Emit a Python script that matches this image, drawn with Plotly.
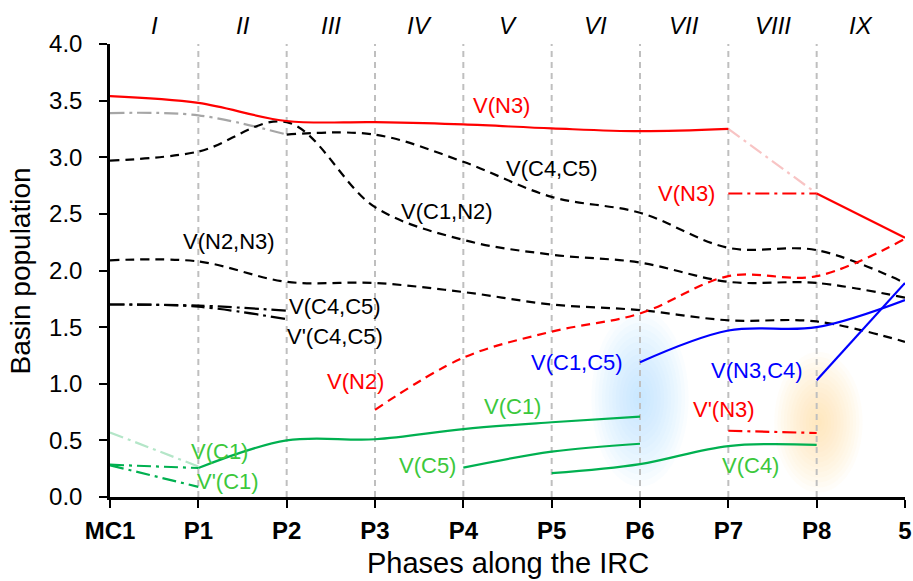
import plotly.graph_objects as go

# ---------------- data ----------------
categories = ["MC1", "P1", "P2", "P3", "P4", "P5", "P6", "P7", "P8", "5"]
phases = ["I", "II", "III", "IV", "V", "VI", "VII", "VIII", "IX"]

N = None
vN3_main   = [3.54, 3.48, 3.32, 3.31, 3.29, 3.255, 3.23, 3.25, N, N]
vN3_fade   = [N, N, N, N, N, N, N, 3.25, 2.68, N]
vN3_tail   = [N, N, N, N, N, N, N, N, 2.68, 2.29]
vN3_split  = [N, N, N, N, N, N, N, 2.68, 2.68, N]
vpN3       = [N, N, N, N, N, N, N, 0.585, 0.565, N]
grey_dd    = [3.39, 3.37, 3.20, N, N, N, N, N, N, N]
dash_a     = [2.97, 3.05, 3.31, 2.56, 2.27, 2.14, 2.07, 1.90, 1.89, 1.76]
dash_b     = [N, N, 3.20, 3.20, 2.96, 2.65, 2.51, 2.20, 2.18, 1.89]
vN2N3      = [2.09, 2.08, 1.90, 1.89, 1.81, 1.70, 1.65, 1.56, 1.55, 1.37]
vC4C5_dd   = [1.70, 1.69, 1.645, N, N, N, N, N, N, N]
vpC4C5_dd  = [1.70, 1.68, 1.57, N, N, N, N, N, N, N]
vN2        = [N, N, N, 0.77, 1.23, 1.46, 1.62, 1.95, 1.95, 2.28]
vC1C5      = [N, N, N, N, N, N, 1.19, 1.47, 1.50, 1.74]
vN3C4      = [N, N, N, N, N, N, N, N, 1.03, 1.89]
vC1        = [N, 0.256, 0.50, 0.51, 0.60, 0.66, 0.71, N, N, N]
vC5        = [N, N, N, N, 0.26, 0.40, 0.47, N, N, N]
vC4        = [N, N, N, N, N, 0.21, 0.29, 0.45, 0.46, N]
vC1_dd     = [0.285, 0.256, N, N, N, N, N, N, N, N]
vpC1_dd    = [0.28, 0.09, N, N, N, N, N, N, N, N]
pale_dd    = [0.57, 0.27, N, N, N, N, N, N, N, N]

# ---------------- styles ----------------
RED, BLACK, BLUE, GREEN = "#FF0000", "#000000", "#0000FF", "#00B050"
GREEN_TXT = "#3CC83C"
FONT = "Liberation Sans, Arial, sans-serif"
DASH = "9px,6px"
DASHDOT = "14px,5px,3px,5px"

fig = go.Figure()

def add(y, color, dash="solid", width=2.2, smooth=True):
    fig.add_trace(go.Scatter(
        x=categories, y=y, mode="lines",
        line=dict(color=color, width=width, dash=dash,
                  shape="spline" if smooth else "linear", smoothing=1.0),
        hoverinfo="skip", showlegend=False, connectgaps=False))

add(grey_dd, "#A6A6A6", DASHDOT)
add(pale_dd, "#B4E6C8", DASHDOT)
add(dash_a, BLACK, DASH)
add(dash_b, BLACK, DASH)
add(vN2N3, BLACK, DASH)
add(vC4C5_dd, BLACK, DASHDOT)
add(vpC4C5_dd, BLACK, DASHDOT)
add(vN3_fade, "#F8C4C4", DASHDOT)
add(vN3_main, RED)
add(vN3_tail, RED, smooth=False)
add(vN3_split, RED, DASHDOT)
add(vpN3, RED, DASHDOT)
add(vN2, RED, DASH)
add(vC1C5, BLUE)
add(vN3C4, BLUE, smooth=False)
add(vC1, GREEN)
add(vC5, GREEN)
add(vC4, GREEN)
add(vC1_dd, GREEN, DASHDOT)
add(vpC1_dd, GREEN, DASHDOT)

# ---------------- glows (stacked translucent ellipses) ----------------
shapes = []
def glow(cx, cy, rx, ry, color, steps=14, op=0.06):
    for k in range(steps):
        f = 1 - k / steps
        shapes.append(dict(type="circle", xref="x", yref="y", layer="below",
                           x0=cx - rx * f, x1=cx + rx * f,
                           y0=cy - ry * f, y1=cy + ry * f,
                           fillcolor=color, opacity=op, line=dict(width=0)))

glow(6.0, 0.87, 0.55, 0.78, "#A6DAF7")
glow(8.02, 0.66, 0.5, 0.62, "#F9D59E")

# vertical dashed phase separators at interior categories
for i in range(1, len(categories) - 1):
    shapes.append(dict(type="line", xref="x", yref="y", layer="below",
                       x0=i, x1=i, y0=0, y1=4.0,
                       line=dict(color="#BFBFBF", width=2, dash="6px,5px")))

# ---------------- annotations ----------------
annotations = []
for i, p in enumerate(phases):
    annotations.append(dict(x=i + 0.5, y=1.04, xref="x", yref="paper",
                            text=f"<i>{p}</i>", showarrow=False,
                            font=dict(family=FONT, size=24, color=BLACK),
                            xanchor="center", yanchor="middle"))

labels = [
    ("V(N3)", 4.43, 3.46, RED),
    ("V(C4,C5)", 5.0, 2.90, BLACK),
    ("V(N3)", 6.53, 2.68, RED),
    ("V(C1,N2)", 3.82, 2.52, BLACK),
    ("V(N2,N3)", 1.35, 2.26, BLACK),
    ("V(C4,C5)", 2.55, 1.68, BLACK),
    ("V'(C4,C5)", 2.55, 1.42, BLACK),
    ("V(N2)", 2.78, 1.02, RED),
    ("V(C1,C5)", 5.29, 1.19, BLUE),
    ("V(N3,C4)", 7.33, 1.12, BLUE),
    ("V(C1)", 4.56, 0.795, GREEN_TXT),
    ("V'(N3)", 6.95, 0.77, RED),
    ("V(C4)", 7.25, 0.28, GREEN_TXT),
    ("V(C5)", 3.59, 0.28, GREEN_TXT),
    ("V(C1)", 1.24, 0.40, GREEN_TXT),
    ("V'(C1)", 1.34, 0.14, GREEN_TXT),
]
for t, x, y, c in labels:
    annotations.append(dict(x=x, y=y, xref="x", yref="y", text=t,
                            showarrow=False, xanchor="center", yanchor="middle",
                            font=dict(family=FONT, size=22, color=c)))

# axis titles
annotations.append(dict(x=0.5, y=-0.1457, xref="paper", yref="paper",
                        text="Phases along the IRC", showarrow=False,
                        xanchor="center", yanchor="middle",
                        font=dict(family=FONT, size=29, color=BLACK)))
annotations.append(dict(x=-0.112, y=0.5, xref="paper", yref="paper",
                        text="Basin population", showarrow=False, textangle=-90,
                        xanchor="center", yanchor="middle",
                        font=dict(family=FONT, size=28, color=BLACK)))

fig.update_layout(
    width=913, height=581,
    margin=dict(l=110, r=8, t=44, b=84, autoexpand=False),
    paper_bgcolor="white", plot_bgcolor="white",
    font=dict(family=FONT, color=BLACK),
    shapes=shapes, annotations=annotations,
    xaxis=dict(type="category", range=[0, 9], categoryorder="array",
               categoryarray=categories, automargin=False,
               showgrid=False, zeroline=False,
               showline=True, linecolor=BLACK, linewidth=2.5,
               ticks="outside", ticklen=8, tickwidth=2, tickcolor=BLACK,
               tickfont=dict(family=FONT, size=24, color=BLACK, weight="bold"),
               ticklabelstandoff=2),
    yaxis=dict(range=[0, 4.0], dtick=0.5, tick0=0, tickformat=".1f",
               automargin=False,
               showgrid=False, zeroline=False,
               showline=True, linecolor=BLACK, linewidth=2.5,
               ticks="outside", ticklen=8, tickwidth=2, tickcolor=BLACK,
               tickfont=dict(family=FONT, size=24, color=BLACK),
               ticklabelstandoff=12),
)

fig.write_html("out.html", config={"displayModeBar": False},
               post_script="document.body.style.margin='0px';document.body.style.padding='0px';")
